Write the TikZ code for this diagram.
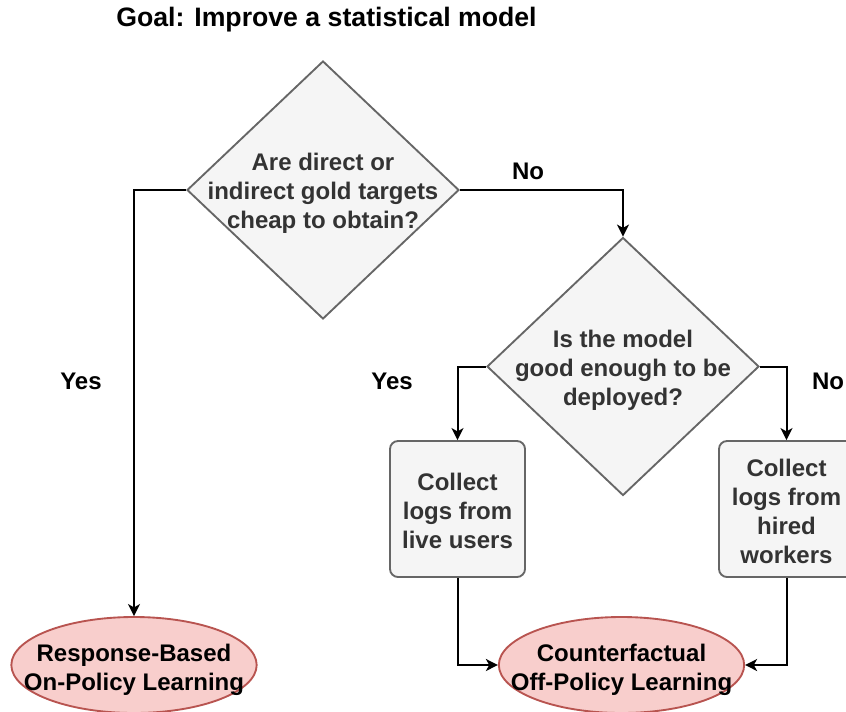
\documentclass[tikz,border=0pt]{standalone}
\usepackage{fontspec}
\setmainfont{Liberation Sans}
\usetikzlibrary{shapes.geometric,arrows.meta}
\definecolor{gfill}{HTML}{F5F5F5}
\definecolor{gdraw}{HTML}{666666}
\definecolor{gtext}{HTML}{333333}
\definecolor{rfill}{HTML}{F8CECC}
\definecolor{rdraw}{HTML}{B85450}
\begin{document}
\begin{tikzpicture}[x=0.75pt,y=-0.75pt,
  decision/.style={diamond, draw=gdraw, fill=gfill, line width=1.4pt, inner sep=0pt,
    minimum width=204pt, minimum height=193.5pt},
  actbox/.style={rectangle, rounded corners=6pt, draw=gdraw, fill=gfill, line width=1.4pt,
    minimum width=101.25pt, minimum height=102pt, inner sep=0pt},
  term/.style={ellipse, draw=rdraw, fill=rfill, line width=1.4pt, inner sep=0pt,
    minimum width=184pt, minimum height=72pt},
  gtxt/.style={text=gtext, font=\fontsize{18}{21.75}\selectfont\bfseries, align=center},
  btxt/.style={text=black, font=\fontsize{18}{21.75}\selectfont\bfseries, align=center},
  lbl/.style={text=black, font=\fontsize{18}{21.75}\selectfont\bfseries},
  arr/.style={draw=black, line width=1.5pt, -{Stealth[length=9pt,width=9pt,inset=2.5pt]}}]
\useasboundingbox (0,0) rectangle (846,711);

\node[lbl, font=\fontsize{20}{24}\selectfont\bfseries] (title) at (326.5,20) {Goal: Improve a statistical model};

\node[decision] (d1) at (323,190) {};
\node[gtxt] (d1t) at (323,193) {Are direct or\\indirect gold targets\\cheap to obtain?};

\node[decision] (d2) at (623,366.5) {};
\node[gtxt] (d2t) at (623,370.5) {Is the model\\good enough to be\\deployed?};

\node[actbox] (b1) at (457.5,509) {};
\node[gtxt] (b1t) at (457.5,511) {Collect\\logs from\\live users};

\node[actbox] (b2) at (786.5,509) {};
\node[gtxt] (b2t) at (786.5,511) {Collect\\logs from\\hired\\workers};

\node[term] (e1) at (134,665) {};
\node[btxt] (e1t) at (134,669.5) {Response-Based\\On-Policy Learning};

\node[term] (e2) at (621.5,665) {};
\node[btxt] (e2t) at (621.5,669.5) {Counterfactual\\Off-Policy Learning};

\node[lbl] (yes1) at (81,381) {Yes};
\node[lbl] (no1) at (528,171) {No};
\node[lbl] (yes2) at (392,381) {Yes};
\node[lbl] (no2) at (828,381) {No};

\draw[arr] (d1.west) -| (e1.north);
\draw[arr] (d1.east) -| (d2.north);
\draw[arr] (d2.west) -| (b1.north);
\draw[arr] (d2.east) -| (b2.north);
\draw[arr] (b1.south) |- (e2.west);
\draw[arr] (b2.south) |- (e2.east);
\end{tikzpicture}
\end{document}
